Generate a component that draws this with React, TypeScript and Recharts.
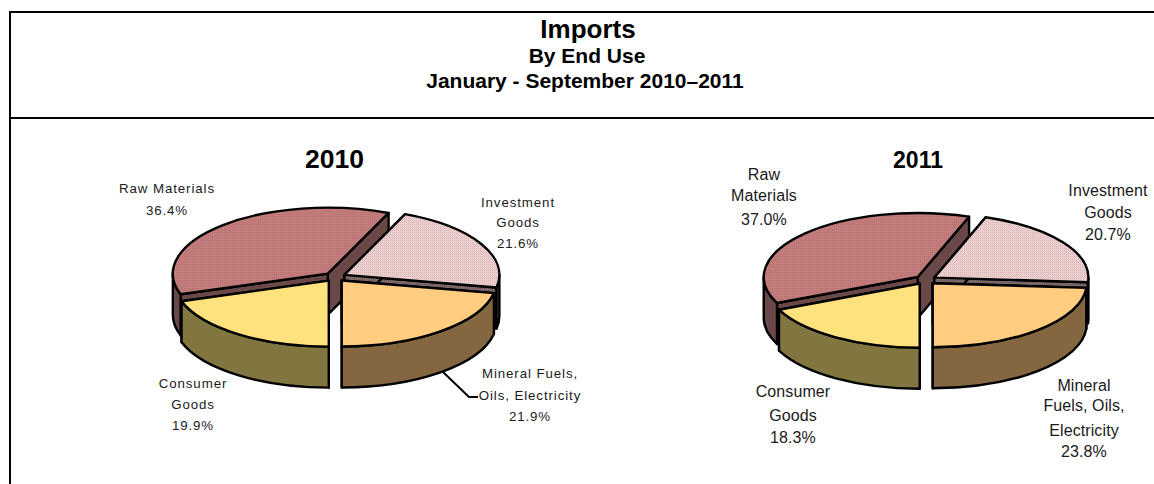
import { PieChart, Pie } from 'recharts';

// Order is the drawing order: back slices first, front slices last
const categories = ['Raw Materials', 'Investment Goods', 'Mineral Fuels, Oils, Electricity', 'Consumer Goods'];
const values2010 = [36.4, 21.6, 21.9, 19.9];
const values2011 = [37.0, 20.7, 23.8, 18.3];

const titleLines = ['Imports', 'By End Use', 'January - September 2010–2011'];

const labelLines2010 = [
  ['Raw Materials'],
  ['Investment', 'Goods'],
  ['Mineral Fuels,', 'Oils, Electricity'],
  ['Consumer', 'Goods'],
];
const labelLines2011 = [
  ['Raw', 'Materials'],
  ['Investment', 'Goods'],
  ['Mineral', 'Fuels, Oils,', 'Electricity'],
  ['Consumer', 'Goods'],
];

const topFills = ['url(#rawDots)', 'url(#investDots)', '#FFCC80', '#FFE17E'];
const sideFills = ['#6B4848', 'url(#investSide)', '#846640', '#827640'];

const toTable = (values: number[]) => values.map((value, i) => ({ name: categories[i], value }));

// The raw materials slice starts where consumer goods ends, pies run clockwise from 6 o'clock backwards
const startAngleOf = (values: number[]) => {
  const total = values.reduce((a, b) => a + b, 0);
  return 270 - (360 * values[3]) / total;
};

const rad = (a: number) => (a * Math.PI) / 180;

function makeSlice(ry: number, depth: number, explode: number) {
  return function Slice(props: any) {
    const { cx, cy, outerRadius: rx, startAngle, endAngle, index } = props;
    const lo = Math.min(startAngle, endAngle);
    const hi = Math.max(startAngle, endAngle);
    const mid = (lo + hi) / 2;
    const x0 = cx + Math.cos(rad(mid)) * explode;
    const y0 = cy - (Math.sin(rad(mid)) * explode * ry) / rx;
    const px = (a: number) => x0 + Math.cos(rad(a)) * rx;
    const py = (a: number) => y0 - Math.sin(rad(a)) * ry;

    const top = `M${x0},${y0} L${px(lo)},${py(lo)} A${rx},${ry} 0 ${hi - lo > 180 ? 1 : 0} 0 ${px(hi)},${py(hi)} Z`;
    const face = (a: number) =>
      `M${x0},${y0} L${px(a)},${py(a)} L${px(a)},${py(a) + depth} L${x0},${y0 + depth} Z`;

    // only the lower half of the rim can be seen
    const rims: string[] = [];
    for (const k of [-360, 0, 360]) {
      const s = Math.max(lo, 180 + k);
      const e = Math.min(hi, 360 + k);
      if (e > s) {
        rims.push(
          `M${px(s)},${py(s)} A${rx},${ry} 0 0 0 ${px(e)},${py(e)} L${px(e)},${py(e) + depth} A${rx},${ry} 0 0 1 ${px(s)},${py(s) + depth} Z`,
        );
      }
    }

    const common = { stroke: '#000', strokeWidth: 2.4, strokeLinejoin: 'round' as const };
    return (
      <g>
        <path d={face(lo)} fill={sideFills[index]} {...common} />
        <path d={face(hi)} fill={sideFills[index]} {...common} />
        {rims.map((d) => (
          <path key={d} d={d} fill={sideFills[index]} {...common} />
        ))}
        <path d={top} fill={topFills[index]} {...common} />
      </g>
    );
  };
}

function makeLabel(lines: string[][], spots: { x: number; ys: number[] }[], textStyle: any) {
  return function SliceLabel(props: any) {
    const { index, value } = props;
    const { x, ys } = spots[index];
    const all = [...lines[index], `${value.toFixed(1)}%`];
    return (
      <text textAnchor="middle" fill="#1a1a1a" style={textStyle}>
        {all.map((line, i) => (
          <tspan key={line} x={x} y={ys[i]}>
            {line}
          </tspan>
        ))}
      </text>
    );
  };
}

const spots2010 = [
  { x: 167, ys: [193, 215] },
  { x: 518, ys: [207, 227, 248] },
  { x: 530, ys: [378, 400, 421] },
  { x: 193, ys: [388, 409, 430] },
];
const spots2011 = [
  { x: 764, ys: [180, 201, 225] },
  { x: 1108, ys: [196, 218, 240] },
  { x: 1084, ys: [391, 411, 436, 457] },
  { x: 793, ys: [397, 421, 443] },
];

const font = 'Liberation Sans, Arial, sans-serif';

export default function App() {
  return (
    <div style={{ position: 'absolute', left: 0, top: 0, width: 1154, height: 484, background: '#fff' }}>
      <PieChart width={1154} height={484} margin={{ top: 0, right: 0, bottom: 0, left: 0 }}>
        <defs>
          <pattern id="rawDots" width="2" height="2" patternUnits="userSpaceOnUse">
            <rect width="2" height="2" fill="#C27C7C" />
            <rect width="1" height="1" fill="#B87272" />
          </pattern>
          <pattern id="investDots" width="2" height="2" patternUnits="userSpaceOnUse">
            <rect width="2" height="2" fill="#EBCFCF" />
            <rect width="1" height="1" fill="#D9B4B4" />
          </pattern>
          <pattern id="investSide" width="2" height="2" patternUnits="userSpaceOnUse">
            <rect width="2" height="2" fill="#7E6A6A" />
            <rect width="1" height="1" fill="#6A5656" />
          </pattern>
        </defs>

        <path d="M1154,12 H10 V484 M10,118 H1154" fill="none" stroke="#000" strokeWidth={2} />

        <text x={588} y={38} textAnchor="middle" fill="#000" style={{ fontFamily: font, fontWeight: 700, fontSize: 26 }}>
          {titleLines[0]}
        </text>
        <text x={587} y={63} textAnchor="middle" fill="#000" style={{ fontFamily: font, fontWeight: 700, fontSize: 21 }}>
          {titleLines[1]}
        </text>
        <text x={585} y={88} textAnchor="middle" fill="#000" style={{ fontFamily: font, fontWeight: 700, fontSize: 21 }}>
          {titleLines[2]}
        </text>
        <text x={334.5} y={168} textAnchor="middle" fill="#000" style={{ fontFamily: font, fontWeight: 700, fontSize: 26.5 }}>
          2010
        </text>
        <text x={918} y={168} textAnchor="middle" fill="#000" style={{ fontFamily: font, fontWeight: 700, fontSize: 23 }}>
          2011
        </text>

        {/* leader line of the 2010 mineral fuels label */}
        <path d="M443,372 L469,397 H478" fill="none" stroke="#000" strokeWidth={2} />

        <Pie
          data={toTable(values2010)}
          dataKey="value"
          nameKey="name"
          cx={335}
          cy={277}
          outerRadius={155}
          startAngle={startAngleOf(values2010)}
          endAngle={startAngleOf(values2010) - 360}
          isAnimationActive={false}
          shape={makeSlice(66, 41, 10.6)}
          labelLine={false}
          label={makeLabel(labelLines2010, spots2010, {
            fontFamily: font,
            fontSize: 13.3,
            letterSpacing: 0.9,
          })}
        />
        <Pie
          data={toTable(values2011)}
          dataKey="value"
          nameKey="name"
          cx={925.5}
          cy={280}
          outerRadius={154}
          startAngle={startAngleOf(values2011)}
          endAngle={startAngleOf(values2011) - 360}
          isAnimationActive={false}
          shape={makeSlice(64, 41, 10.6)}
          labelLine={false}
          label={makeLabel(labelLines2011, spots2011, {
            fontFamily: font,
            fontSize: 16,
            letterSpacing: 0.1,
          })}
        />
      </PieChart>
    </div>
  );
}
